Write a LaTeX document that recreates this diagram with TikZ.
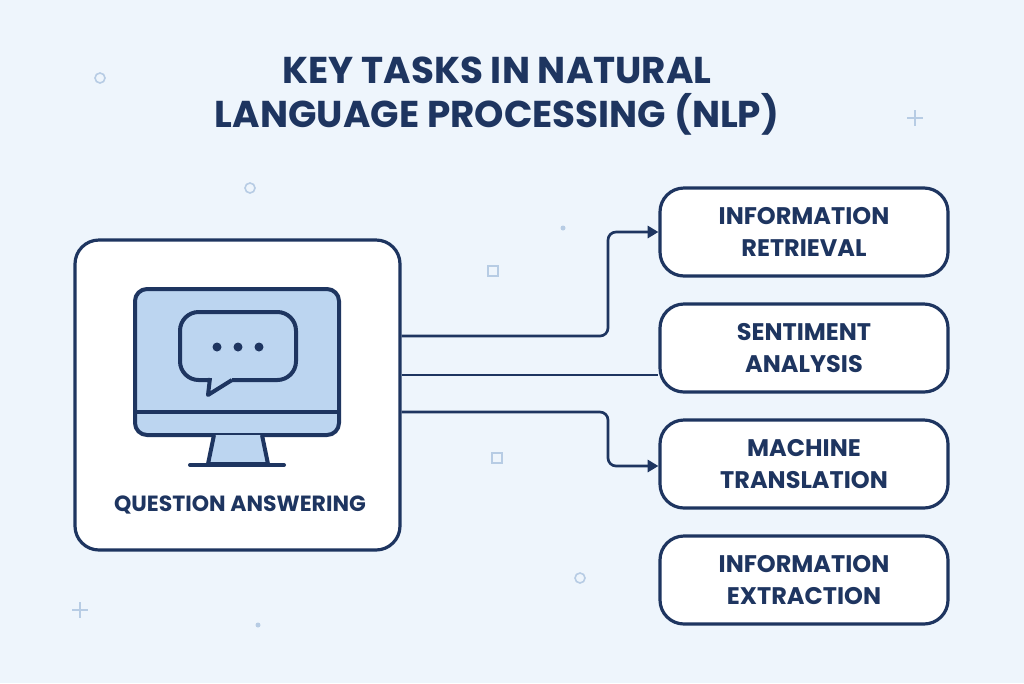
\documentclass[tikz,border=0pt]{standalone}
\usepackage{fontspec}
\setmainfont{Poppins}
\usetikzlibrary{arrows.meta}
\definecolor{navy}{HTML}{1E3560}
\definecolor{bg}{HTML}{EEF5FC}
\definecolor{scr}{HTML}{BCD5F0}
\definecolor{deco}{HTML}{B7CCE4}
\begin{document}
\begin{tikzpicture}[x=0.75pt,y=-0.75pt,
  card/.style={draw=navy,line width=2.4pt,fill=white,rounded corners=18pt},
  task/.style={card,minimum width=216pt,minimum height=66pt,align=center,font=\bfseries\fontsize{18}{24}\selectfont,text=navy},
  conn/.style={draw=navy,line width=2pt,-{Triangle[length=8pt,width=9pt]}},
  ic/.style={draw=navy,line width=3pt,line join=round}]
\fill[bg] (0,0) rectangle (1024,683);
\useasboundingbox (0,0) rectangle (1024,683);
% decorations
\draw[deco,line width=1.2pt] (100,78) circle (5) (250,188) circle (5) (580,578) circle (5);
\draw[deco,line width=1.2pt] (488,266) rectangle (498,276) (492,453) rectangle (502,463);
\draw[deco,line width=1.2pt] (907,118)--(923,118) (915,110)--(915,126) (72,610)--(88,610) (80,602)--(80,618);
\fill[deco] (563,228) circle (2.5) (258,625) circle (2.5);
% title
\node[text=navy,font=\bfseries\fontsize{28}{33}\selectfont,align=center] (title) at (497,96) {KEY TASKS IN NATURAL\\LANGUAGE PROCESSING (NLP)};
% left card
\node[card,minimum width=243.75pt,minimum height=232.5pt] (qa) at (237.5,395) {};
\node[text=navy,font=\bfseries\fontsize{16.5}{18}\selectfont] (qal) at (240,505) {QUESTION ANSWERING};
% monitor
\draw[ic,fill=scr,rounded corners=9pt] (135,289) rectangle (339,435);
\draw[ic] (135,412)--(339,412);
\draw[ic,fill=scr] (214,435)--(208,464)--(268,464)--(262,435);
\draw[ic,line cap=round] (190,465)--(284,465);
\draw[ic,fill=scr,rounded corners=14pt] (212,380) -- (180,380) -- (180,312) -- (296,312) -- (296,380) -- (232,380);
\draw[ic,fill=scr] (232,380) -- (208,395) -- (210,378);
\fill[navy] (217,347) circle (4.5) (238,347) circle (4.5) (259,347) circle (4.5);
% tasks
\node[task] (t1) at (804,232) {INFORMATION\\RETRIEVAL};
\node[task] (t2) at (804,348) {SENTIMENT\\ANALYSIS};
\node[task] (t3) at (804,464) {MACHINE\\TRANSLATION};
\node[task] (t4) at (804,580) {INFORMATION\\EXTRACTION};
% connectors
\draw[conn,rounded corners=6pt] (qa.east |- 0,336) -- (608,336) -- (608,232) -- (t1.west);
\draw[draw=navy,line width=2pt] (qa.east |- 0,375) -- (t2.west |- 0,375);
\draw[conn,rounded corners=6pt] (qa.east |- 0,412) -- (608,412) -- (608,466) -- (t3.west |- 0,466);
\end{tikzpicture}
\end{document}
